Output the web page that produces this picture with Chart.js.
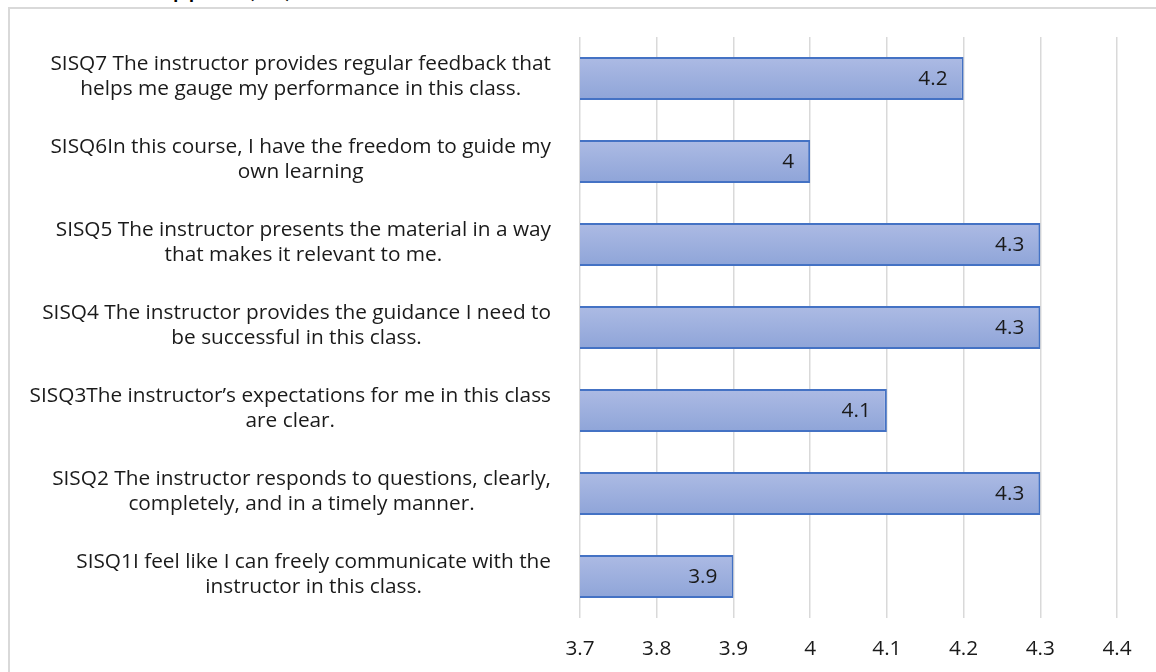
<!DOCTYPE html>
<html lang="en">
<head>
  <meta charset="UTF-8">
  <title>SISQ ratings</title>
  <script src="https://cdn.jsdelivr.net/npm/chart.js"></script>
  <style>
    body { margin: 0; background: #fff; }
    #wrap { position: relative; width: 1156px; height: 672px; overflow: hidden; }
    #title { position: absolute; left: 142px; top: -31px; font: 28px Lato, sans-serif; color: #000; white-space: nowrap; }
    #frame { position: absolute; left: 8px; top: 7px; width: 1300px; height: 800px; border: 2px solid #d9d9d9; background: #fff; }
    canvas { position: absolute; left: 0; top: 0; }
  </style>
</head>
<body>
  <div id="wrap">
    <div id="title">Support (SS)</div>
    <div id="frame"></div>
    <canvas id="myChart" width="1156" height="672" style="width:1156px;height:672px"></canvas>
  </div>

  <script>
    // top to bottom, as the chart shows them
    const questions = [
      ['SISQ7 The instructor provides regular feedback that', 'helps me gauge my performance in this class.'],
      ['SISQ6In this course, I have the freedom to guide my', 'own learning'],
      ['SISQ5 The instructor presents the material in a way', 'that makes it relevant to me.'],
      ['SISQ4 The instructor provides the guidance I need to', 'be successful in this class.'],
      ['SISQ3The instructor\u2019s expectations for me in this class', 'are clear.'],
      ['SISQ2 The instructor responds to questions, clearly,', 'completely, and in a timely manner.'],
      ['SISQ1I feel like I can freely communicate with the', 'instructor in this class.']
    ];
    const scores = [4.2, 4, 4.3, 4.3, 4.1, 4.3, 3.9];
    const xTicks = [3.7, 3.8, 3.9, 4, 4.1, 4.2, 4.3, 4.4];

    const labelFont = '20.8px "Open Sans", sans-serif';
    const textColor = '#1a1a1a';

    // Excel-style wrapped category labels: block right-aligned, lines centred in the block
    const yLabels = {
      id: 'yLabels',
      afterDraw(chart) {
        const { ctx } = chart;
        const y = chart.scales.y;
        ctx.save();
        ctx.font = labelFont;
        ctx.fillStyle = textColor;
        ctx.textAlign = 'center';
        ctx.textBaseline = 'middle';
        const right = y.right - 29;
        y.ticks.forEach((t, i) => {
          const lines = questions[i];
          const w = Math.max(...lines.map(l => ctx.measureText(l).width));
          const cx = right - w / 2;
          const yc = y.getPixelForTick(i) - 2;
          lines.forEach((l, j) => ctx.fillText(l, cx, yc + (j - (lines.length - 1) / 2) * 25));
        });
        ctx.restore();
      }
    };

    // value labels, inside end of each bar
    const valueLabels = {
      id: 'valueLabels',
      afterDatasetsDraw(chart) {
        const { ctx } = chart;
        const meta = chart.getDatasetMeta(0);
        ctx.save();
        ctx.font = labelFont;
        ctx.fillStyle = textColor;
        ctx.textAlign = 'right';
        ctx.textBaseline = 'middle';
        meta.data.forEach((bar, i) => {
          ctx.fillText(String(scores[i]), bar.x - 16, bar.y + 1);
        });
        ctx.restore();
      }
    };

    const ctx = document.getElementById('myChart').getContext('2d');

    new Chart(ctx, {
      type: 'bar',
      data: {
        labels: questions.map(q => q.join(' ')),
        datasets: [{
          data: scores,
          backgroundColor: (c) => {
            const y = c.chart.scales.y;
            if (!y || c.dataIndex === undefined) return '#9cafdd';
            const yc = y.getPixelForValue(c.dataIndex);
            if (!isFinite(yc)) return '#9cafdd';
            const g = c.chart.ctx.createLinearGradient(0, yc - 22, 0, yc + 22);
            g.addColorStop(0, '#adbbe4');
            g.addColorStop(1, '#8ea4d8');
            return g;
          },
          borderColor: '#4472c4',
          borderWidth: 2,
          borderSkipped: false,
          categoryPercentage: 1,
          barPercentage: 0.52
        }]
      },
      options: {
        indexAxis: 'y',
        responsive: false,
        animation: false,
        layout: { padding: { top: 37, right: 39, bottom: 0, left: 0 } },
        plugins: {
          legend: { display: false },
          tooltip: { enabled: false }
        },
        scales: {
          x: {
            type: 'linear',
            min: 3.7,
            max: 4.4,
            afterBuildTicks: (s) => { s.ticks = xTicks.map(v => ({ value: v })); },
            afterFit: (s) => { s.height = 54; },
            grid: { color: '#d9d9d9', lineWidth: 1.5, drawTicks: false },
            border: { display: false },
            ticks: {
              padding: 19,
              color: textColor,
              font: { family: 'Open Sans', size: 20.8 },
              callback: (v) => String(Number(v.toFixed(1)))
            }
          },
          y: {
            grid: { display: false },
            border: { display: false },
            ticks: { display: false },
            afterFit: (s) => { s.width = 580; }
          }
        }
      },
      plugins: [yLabels, valueLabels]
    });
  </script>
</body>
</html>
